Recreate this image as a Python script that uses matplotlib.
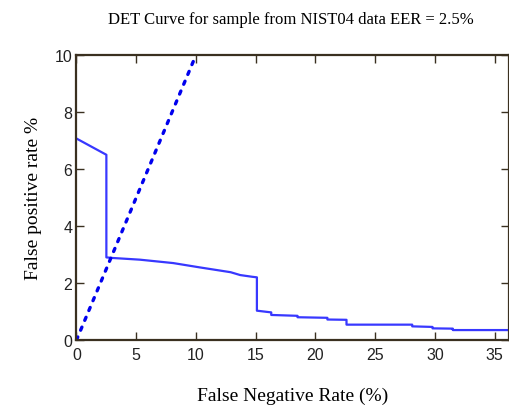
import matplotlib
matplotlib.use("Agg")
import matplotlib.pyplot as plt

# DET curve points (false negative %, false positive %)
fnr = [0, 2.5, 2.5, 3.0, 5.3, 8.1, 10.3, 12.9, 13.7, 14.7, 15.1, 15.1, 16.3, 16.3,
       18.5, 18.5, 21.0, 21.0, 22.6, 22.6, 28.1, 28.1, 29.8, 29.8, 31.5, 31.5, 36.2]
fpr = [7.07, 6.5, 2.9, 2.88, 2.82, 2.7, 2.55, 2.38, 2.28, 2.22, 2.2, 1.03, 0.97, 0.88,
       0.85, 0.8, 0.78, 0.72, 0.71, 0.54, 0.54, 0.48, 0.46, 0.41, 0.40, 0.35, 0.35]

# EER reference line (y = x)
eer_x = [0, 10]
eer_y = [0, 10]

xticks = [0, 5, 10, 15, 20, 25, 30, 35]
yticks = [0, 2, 4, 6, 8, 10]

serif = ["Liberation Serif", "DejaVu Serif"]
narrow = ["Liberation Sans Narrow", "Liberation Sans", "DejaVu Sans"]
edge = "#3a3020"

fig = plt.figure(figsize=(5.1, 4.06), dpi=100)
ax = fig.add_axes([0.150, 0.160, 0.848, 0.702])

ax.plot(fnr, fpr, color="#2222ff", lw=1.6, alpha=0.9)
ax.plot(eer_x, eer_y, color="#0000ee", lw=2.4, linestyle=(0, (1, 2.2)),
        dash_capstyle="round")

ax.set_xlim(0, 36.2)
ax.set_ylim(0, 10)
ax.set_xticks(xticks)
ax.set_yticks(yticks)
ax.tick_params(direction="in", top=True, right=True, length=6, width=1,
               color=edge, labelsize=11.5)
ax.tick_params(axis="x", pad=5)
ax.tick_params(axis="y", pad=3)
for lab in ax.get_xticklabels() + ax.get_yticklabels():
    lab.set_family(narrow)
    lab.set_color("#222222")
for s in ax.spines.values():
    s.set_color(edge)
    s.set_linewidth(1.6)

fig.text(0.57, 0.95, "DET Curve for sample from NIST04 data EER = 2.5%",
         ha="center", va="center", fontsize=12, family=serif)
ax.set_xlabel("False Negative Rate (%)", fontsize=14, family=serif, labelpad=18)
ax.set_ylabel("False positive rate %", fontsize=14, family=serif, labelpad=9)

fig.savefig("out.png", dpi=100)
